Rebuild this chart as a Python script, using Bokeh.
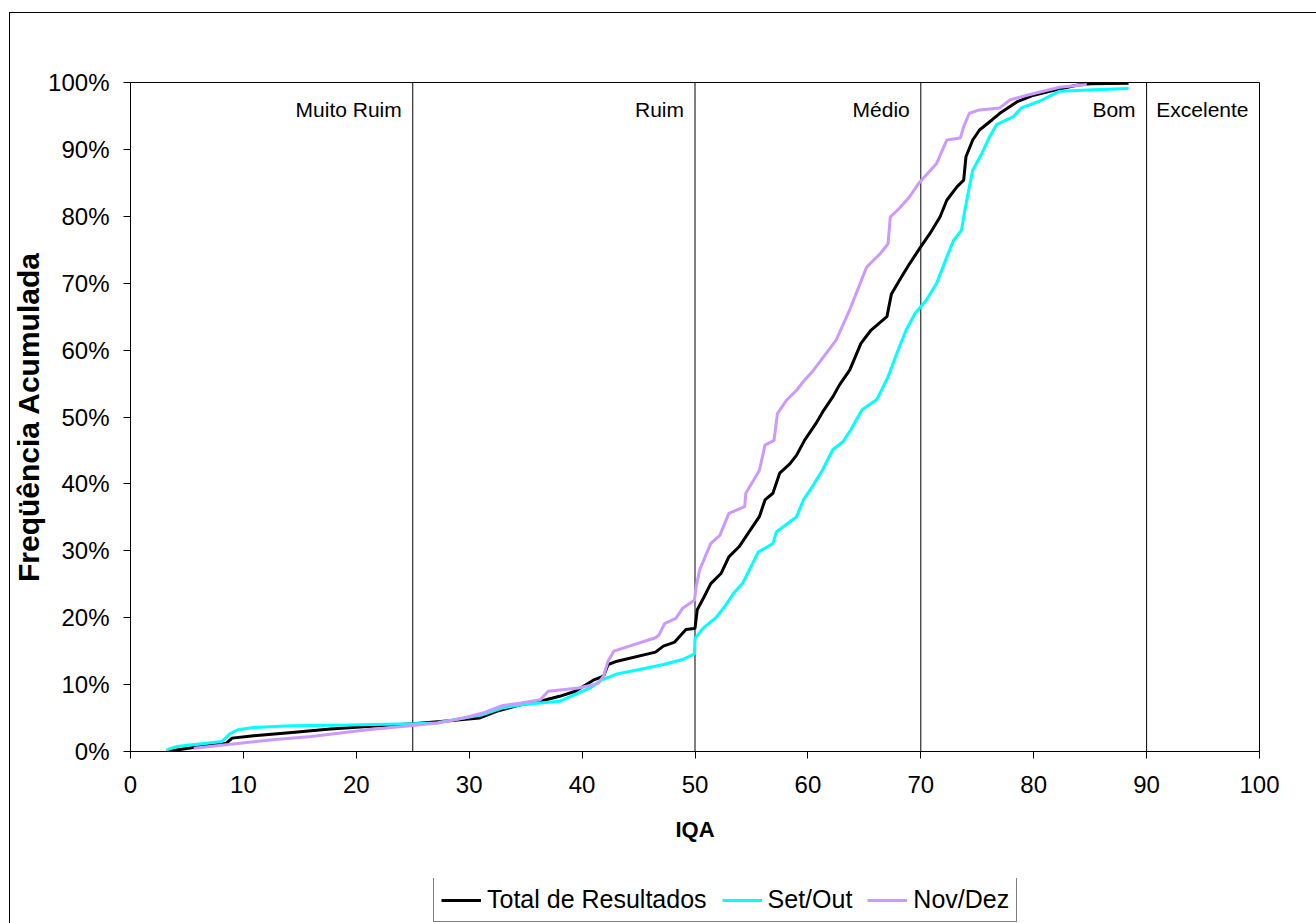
from bokeh.plotting import figure
from bokeh.layouts import column
from bokeh.models import (ColumnDataSource, FixedTicker, PrintfTickFormatter, Legend,
                          LegendItem)
from bokeh.core.properties import value
from bokeh.embed import file_html
from bokeh.resources import INLINE

FONT = "Liberation Sans"

# Cumulative frequency of IQA results (%)
total_iqa = [3.2, 5.1, 8.5, 9.0, 10.9, 14.3, 17.7, 21.0, 25.0, 27.5, 30.9, 32.6, 34.6, 36.3, 38.0,
             39.4, 41.1, 41.9, 42.3, 43.1, 46.5, 47.2, 48.2, 49.2, 49.9, 50.0, 50.2, 50.8, 51.4,
             52.3, 53.0, 53.9, 54.7, 55.7, 56.2, 56.9, 57.5, 58.4, 59.0, 59.7, 60.7, 61.4, 62.2,
             62.8, 63.7, 64.7, 65.6, 67.0, 67.4, 68.1, 69.0, 69.9, 70.8, 71.7, 72.3, 73.2, 73.8,
             74.0, 74.6, 75.2, 76.3, 77.0, 78.5, 80.0, 81.7, 83.8, 85.0, 88.4]
total_freq = [0.0, 0.5, 1.25, 2.0, 2.35, 2.85, 3.35, 3.75, 4.15, 4.5, 5.0, 6.1, 7.0, 7.5, 8.25,
              9.0, 10.75, 11.25, 13.0, 13.5, 14.85, 15.75, 16.35, 18.25, 18.4, 18.4, 21.2, 23.1,
              25.1, 26.6, 29.1, 30.6, 32.6, 35.1, 37.6, 38.6, 41.6, 43.0, 44.3, 46.5, 49.0, 51.0,
              53.0, 54.8, 57.0, 61.0, 63.0, 65.0, 68.4, 70.4, 72.9, 75.2, 77.4, 79.9, 82.4, 84.4,
              85.4, 88.9, 91.4, 92.9, 94.4, 95.4, 97.1, 98.1, 98.8, 99.6, 99.8, 99.9]

setout_iqa = [3.2, 4.1, 8.1, 8.8, 9.5, 10.9, 14.3, 19.3, 25.0, 27.2, 27.8, 29.5, 31.2, 32.9, 34.6,
              36.3, 38.0, 38.7, 39.7, 40.7, 41.8, 43.1, 45.1, 47.2, 48.9, 49.95, 50.0, 50.7, 51.9,
              52.6, 53.4, 54.2, 54.8, 55.6, 56.9, 57.2, 59.0, 59.6, 60.4, 61.3, 62.2, 63.1, 63.8,
              64.8, 66.1, 67.1, 68.1, 68.7, 69.5, 70.5, 71.4, 72.3, 72.9, 73.6, 73.9, 74.3, 74.6,
              75.4, 76.1, 76.7, 78.2, 78.9, 80.5, 82.3, 85.3, 88.4]
setout_freq = [0.25, 0.75, 1.5, 2.65, 3.25, 3.6, 3.85, 3.95, 4.15, 4.25, 4.5, 5.0, 5.5, 6.5, 7.0,
               7.25, 7.5, 8.0, 8.75, 9.5, 10.75, 11.6, 12.25, 13.0, 13.75, 14.6, 16.9, 18.4, 20.1,
               21.6, 23.6, 25.1, 27.1, 29.8, 31.1, 32.8, 35.1, 37.6, 39.6, 42.1, 45.1, 46.3, 48.1,
               51.1, 52.6, 56.0, 60.5, 63.0, 65.5, 67.5, 70.0, 73.9, 76.4, 77.9, 80.9, 84.4, 86.9,
               89.4, 91.9, 93.7, 94.9, 96.2, 97.2, 98.7, 98.9, 99.1]

novdez_iqa = [5.6, 12.6, 16.0, 21.0, 25.0, 27.2, 29.5, 31.2, 32.9, 34.6, 36.3, 37.0, 39.7, 41.4,
              41.9, 42.3, 42.8, 46.5, 46.8, 47.3, 48.3, 48.9, 49.95, 50.1, 50.4, 51.4, 52.2, 53.0,
              54.4, 54.5, 55.7, 56.2, 57.0, 57.3, 58.1, 59.0, 59.6, 60.5, 62.5, 63.7, 65.2, 66.4,
              67.1, 67.3, 68.1, 69.0, 69.8, 70.6, 71.4, 72.3, 73.5, 73.8, 74.3, 75.2, 77.0, 77.9,
              79.4, 81.1, 82.3, 84.7]
novdez_freq = [0.5, 1.75, 2.25, 3.25, 3.9, 4.25, 5.0, 5.75, 6.85, 7.25, 7.75, 9.0, 9.5, 10.15,
               11.25, 13.5, 15.0, 17.0, 17.4, 19.1, 19.9, 21.4, 22.6, 24.6, 27.1, 31.1, 32.3, 35.6,
               36.6, 38.6, 42.0, 45.8, 46.5, 50.5, 52.5, 54.0, 55.3, 57.0, 61.5, 66.0, 72.4, 74.4,
               75.9, 79.9, 81.2, 82.9, 84.9, 86.4, 87.9, 91.4, 91.7, 93.4, 95.4, 95.9, 96.2, 97.4,
               98.1, 98.8, 99.3, 99.7]

series_names = ["Total de Resultados", "Set/Out", "Nov/Dez"]
series_colors = ["black", "#00FFFF", "#CC99FF"]

# Quality class limits and names
class_limits = [25, 50, 70, 90, 100]
class_names = ["Muito Ruim", "Ruim", "Médio", "Bom", "Excelente"]
class_label_y = 96.0

x_ticks = list(range(0, 101, 10))
y_ticks = list(range(0, 101, 10))

W = 1316
H_MAIN = 878
H_LEGEND = 45

p = figure(width=W, height=H_MAIN, x_range=(0, 100), y_range=(0, 100),
           output_backend="svg", toolbar_location=None,
           min_border_left=130, min_border_right=57, min_border_top=82,
           min_border_bottom=H_MAIN - 751,
           background_fill_color="white", border_fill_alpha=0)
# chart-area border along the left and top edges
p.styles = {
    "background": ("linear-gradient(#000, #000) 9px 12px / 1px 100% no-repeat, "
                   "linear-gradient(#000, #000) 9px 12px / 100% 1px no-repeat, #fff"),
}
p.grid.visible = False
p.outline_line_color = "black"
p.outline_line_width = 1

for ax in (p.xaxis[0], p.yaxis[0]):
    ax.axis_line_color = "black"
    ax.major_tick_line_color = "black"
    ax.minor_tick_line_color = None
    ax.major_tick_in = 0
    ax.major_tick_out = 7
    ax.major_label_text_font = FONT
    ax.major_label_text_font_size = "24px"
    ax.major_label_text_color = "black"
    ax.axis_label_text_font = FONT
    ax.axis_label_text_font_style = "bold"
    ax.axis_label_text_color = "black"

p.xaxis.ticker = FixedTicker(ticks=x_ticks)
p.yaxis.ticker = FixedTicker(ticks=y_ticks)
p.yaxis.formatter = PrintfTickFormatter(format="%d%%")
p.xaxis.major_label_standoff = 17
p.yaxis.major_label_standoff = 14
p.xaxis.axis_label = "IQA"
p.xaxis.axis_label_text_font_size = "22px"
p.xaxis.axis_label_standoff = 21
p.yaxis.axis_label = "Freqüência Acumulada"
p.yaxis.axis_label_text_font_size = "30px"
p.yaxis.axis_label_standoff = 0

# Class boundaries
p.segment(x0=class_limits[:-1], y0=0, x1=class_limits[:-1], y1=100,
          line_color="black", line_width=1)

# Class names, right-aligned just left of each upper limit
lbl_src = ColumnDataSource(dict(x=class_limits, y=[class_label_y] * 5, t=class_names))
p.text(x="x", y="y", text="t", source=lbl_src, text_align="right", text_baseline="middle",
       x_offset=-11, text_font=value(FONT), text_font_size="21px", text_color="black")

for xs, ys, c in zip([total_iqa, setout_iqa, novdez_iqa],
                     [total_freq, setout_freq, novdez_freq], series_colors):
    p.line(xs, ys, line_color=c, line_width=3)

# Legend strip beneath the chart (its frame is aligned with the chart frame by the column)
leg = figure(width=W, height=H_LEGEND, x_range=(0, 1), y_range=(0, 1),
             output_backend="svg", toolbar_location=None,
             x_axis_type=None, y_axis_type=None,
             min_border_left=0, min_border_right=0, min_border_top=0, min_border_bottom=0,
             background_fill_color=None, border_fill_alpha=0, outline_line_color=None)
leg.styles = {"background": "linear-gradient(#000, #000) 9px 0 / 1px 100% no-repeat, #fff"}
leg.grid.visible = False
items = []
for name, c in zip(series_names, series_colors):
    # key sample only: the segment lies outside the visible range
    r = leg.line([5, 6], [5, 5], line_color=c, line_width=3)
    items.append(LegendItem(label=name, renderers=[r]))
legend = Legend(items=items, orientation="horizontal", location=(303, 1),
                label_text_font=FONT, label_text_font_size="25px", label_text_color="black",
                glyph_width=40, glyph_height=20, label_height=20, label_standoff=6,
                spacing=15, padding=7, margin=0,
                border_line_color="black", border_line_width=1,
                background_fill_color="white", background_fill_alpha=1)
leg.add_layout(legend, "center")

layout = column(p, leg, spacing=0)
open("out.html", "w").write(file_html(layout, INLINE))
